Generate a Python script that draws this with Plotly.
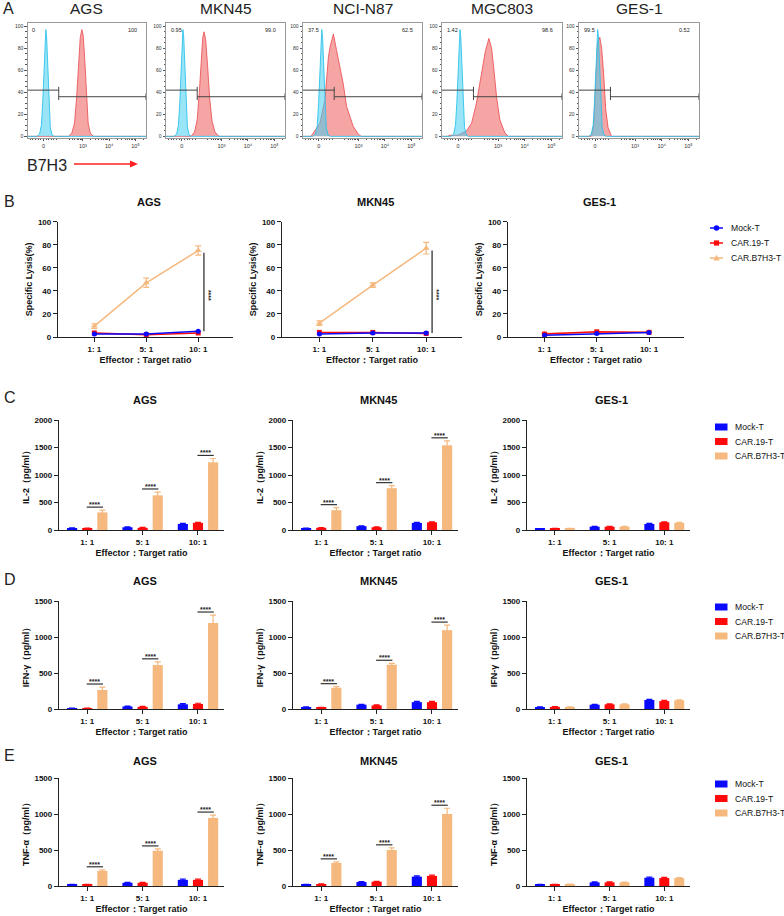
import math
import plotly.graph_objects as go

W, H = 784, 916

# ---------------- data ----------------
flow_samples = ["AGS", "MKN45", "NCI-N87", "MGC803", "GES-1"]
gate_left_pct = ["0", "0.95", "37.5", "1.42", "99.5"]
gate_right_pct = ["100", "99.0", "62.5", "98.6", "0.52"]
# histogram curves, x in display units (0 -> 1.5, 10^3 -> 3, 10^4 -> 4, 10^5 -> 5), y = % of max
ags_ctrl_x = [0.9, 1.25, 1.35, 1.42, 1.47, 1.52, 1.56, 1.59, 1.62, 1.66, 1.71, 1.76, 1.83, 1.92, 5.4]
ags_ctrl_y = [0, 0, 2, 10, 30, 65, 90, 97, 90, 62, 28, 8, 1, 0, 0]
ags_b7_x = [0.9, 2.45, 2.58, 2.68, 2.76, 2.83, 2.90, 2.96, 3.01, 3.07, 3.13, 3.20, 3.28, 3.40, 5.4]
ags_b7_y = [0, 0, 3, 12, 35, 68, 90, 97, 92, 70, 38, 12, 3, 0, 0]
mkn_ctrl_x = [0.9, 1.20, 1.30, 1.37, 1.42, 1.47, 1.51, 1.54, 1.57, 1.61, 1.66, 1.71, 1.78, 1.87, 5.4]
mkn_ctrl_y = [0, 0, 2, 10, 30, 65, 90, 97, 90, 62, 28, 8, 1, 0, 0]
mkn_b7_x = [0.9, 1.85, 1.98, 2.08, 2.16, 2.23, 2.29, 2.34, 2.40, 2.47, 2.55, 2.64, 2.75, 2.90, 5.4]
mkn_b7_y = [0, 0, 4, 15, 40, 72, 90, 95, 88, 65, 35, 14, 4, 0, 0]
nci_ctrl_x = [0.9, 1.27, 1.37, 1.44, 1.49, 1.54, 1.58, 1.61, 1.64, 1.68, 1.73, 1.78, 1.85, 1.94, 5.4]
nci_ctrl_y = [0, 0, 2, 10, 30, 65, 90, 97, 90, 62, 28, 8, 1, 0, 0]
nci_b7_x = [0.9, 1.20, 1.29, 1.54, 1.73, 1.86, 1.92, 2.05, 2.17, 2.30, 2.42, 2.55, 2.68, 2.80, 2.99, 3.10, 5.4]
nci_b7_y = [0, 0, 3, 12, 33, 72, 81, 93, 78, 63, 48, 27, 18, 9, 2, 0, 0]
mgc_ctrl_x = [0.9, 1.235, 1.335, 1.405, 1.455, 1.505, 1.545, 1.575, 1.605, 1.645, 1.695, 1.745, 1.815, 1.905, 5.4]
mgc_ctrl_y = [0, 0, 2, 10, 30, 65, 90, 97, 90, 62, 28, 8, 1, 0, 0]
mgc_b7_x = [0.9, 1.10, 1.19, 1.50, 1.82, 2.01, 2.19, 2.32, 2.45, 2.53, 2.66, 2.76, 2.85, 2.95, 3.07, 3.26, 3.39, 5.4]
mgc_b7_y = [0, 0, 1, 1, 5, 12, 30, 50, 70, 78, 89, 80, 60, 35, 15, 3, 0, 0]
ges_ctrl_x = [0.9, 1.26, 1.36, 1.43, 1.48, 1.53, 1.57, 1.60, 1.63, 1.67, 1.72, 1.77, 1.84, 1.93, 5.4]
ges_ctrl_y = [0, 0, 2, 10, 30, 65, 90, 97, 90, 62, 28, 8, 1, 0, 0]
ges_b7_x = [0.9, 1.36, 1.45, 1.52, 1.60, 1.68, 1.75, 1.83, 1.90, 1.99, 2.12, 5.4]
ges_b7_y = [0, 0, 10, 50, 85, 90, 80, 55, 25, 8, 0, 0]
gate_split = 2.08
gate_left_y = 42
gate_right_y = 36
flow_tickvals = [1.5, 3, 4, 5]
flow_ticktext = ["0", "10³", "10⁴", "10⁵"]

ratios = ["1: 1", "5: 1", "10: 1"]
groups = ["Mock-T", "CAR.19-T", "CAR.B7H3-T"]
targets = ["AGS", "MKN45", "GES-1"]

# B: specific lysis (%)
lysis_ags_mock = [2.5, 2.5, 5.0]
lysis_ags_car19 = [3.5, 2.0, 3.5]
lysis_ags_b7h3 = [9.5, 47.0, 75.0]
lysis_ags_b7h3_err = [2.0, 4.0, 4.0]
lysis_mkn45_mock = [2.5, 3.5, 3.5]
lysis_mkn45_car19 = [4.0, 4.0, 3.0]
lysis_mkn45_b7h3 = [12.0, 45.0, 77.0]
lysis_mkn45_b7h3_err = [2.0, 2.0, 5.0]
lysis_ges1_mock = [1.5, 3.0, 4.0]
lysis_ges1_car19 = [2.5, 4.5, 4.0]
lysis_ges1_b7h3 = [3.0, 3.5, 4.5]
lysis_ges1_b7h3_err = [0.5, 0.5, 0.5]

# C: IL-2 (pg/ml)
il2_ags_mock = [35, 50, 110]
il2_ags_car19 = [30, 40, 130]
il2_ags_b7h3 = [320, 630, 1230]
il2_ags_b7h3_err = [40, 60, 70]
il2_mkn45_mock = [30, 70, 130]
il2_mkn45_car19 = [40, 50, 140]
il2_mkn45_b7h3 = [360, 760, 1540]
il2_mkn45_b7h3_err = [45, 45, 80]
il2_ges1_mock = [20, 60, 110]
il2_ges1_car19 = [25, 60, 140]
il2_ges1_b7h3 = [25, 60, 130]
il2_ges1_b7h3_err = [5, 5, 10]

# D: IFN-gamma (pg/ml)
ifn_ags_mock = [10, 35, 65]
ifn_ags_car19 = [10, 30, 70]
ifn_ags_b7h3 = [265, 610, 1195]
ifn_ags_b7h3_err = [40, 45, 110]
ifn_mkn45_mock = [25, 60, 95]
ifn_mkn45_car19 = [20, 50, 95]
ifn_mkn45_b7h3 = [295, 615, 1095]
ifn_mkn45_b7h3_err = [15, 20, 70]
ifn_ges1_mock = [25, 60, 125]
ifn_ges1_car19 = [30, 65, 110]
ifn_ges1_b7h3 = [25, 65, 120]
ifn_ges1_b7h3_err = [5, 5, 8]

# E: TNF-alpha (pg/ml)
tnf_ags_mock = [20, 45, 85]
tnf_ags_car19 = [20, 45, 85]
tnf_ags_b7h3 = [210, 490, 945]
tnf_ags_b7h3_err = [15, 25, 40]
tnf_mkn45_mock = [20, 55, 130]
tnf_mkn45_car19 = [25, 60, 140]
tnf_mkn45_b7h3 = [320, 500, 1000]
tnf_mkn45_b7h3_err = [15, 30, 80]
tnf_ges1_mock = [20, 50, 115]
tnf_ges1_car19 = [20, 50, 110]
tnf_ges1_b7h3 = [20, 50, 110]
tnf_ges1_b7h3_err = [5, 5, 8]
small_err = [4, 6, 10]

# ---------------- style ----------------
BLUE, RED, ORANGE = "#0a0aff", "#ff0a0a", "#f5b87e"
GROUP_COLORS = [BLUE, RED, ORANGE]
FAM = "Arial, Liberation Sans, sans-serif"
TICKF = dict(family=FAM, size=8, color="#111", weight="bold")
TITLEF = dict(family=FAM, size=9, color="#111", weight="bold")


def dom_x(a, b):
    return [a / W, b / W]


def dom_y(top, bot):
    return [1 - bot / H, 1 - top / H]


def PX(x):
    return x / W


def PY(y):
    return 1 - y / H


fig = go.Figure()
layout = {}
shapes = []
annos = []
counter = [0]


def add_axes(xdom, ydom, xcfg, ycfg):
    counter[0] += 1
    i = counter[0]
    s = "" if i == 1 else str(i)
    layout["xaxis" + s] = dict(domain=xdom, anchor="y" + s, automargin=False, **xcfg)
    layout["yaxis" + s] = dict(domain=ydom, anchor="x" + s, automargin=False, **ycfg)
    return "x" + s, "y" + s


def ptxt(text, xpx, ypx, size, weight="normal", xanchor="center", color="#111"):
    annos.append(dict(text=text, x=PX(xpx), y=PY(ypx), xref="paper", yref="paper",
                      showarrow=False, xanchor=xanchor, yanchor="middle",
                      font=dict(family=FAM, size=size, color=color, weight=weight)))


# ---------------- A: flow histograms ----------------
flow_curves = [
    (ags_ctrl_x, ags_ctrl_y, ags_b7_x, ags_b7_y),
    (mkn_ctrl_x, mkn_ctrl_y, mkn_b7_x, mkn_b7_y),
    (nci_ctrl_x, nci_ctrl_y, nci_b7_x, nci_b7_y),
    (mgc_ctrl_x, mgc_ctrl_y, mgc_b7_x, mgc_b7_y),
    (ges_ctrl_x, ges_ctrl_y, ges_b7_x, ges_b7_y),
]
flow_frames = [(27.7, 146), (166, 285), (303, 422), (442, 562), (579, 699)]
minor_x = [1.0, 1.1, 1.2, 1.3, 1.4, 1.6, 1.7, 1.8, 1.9, 2.0]
for d in (2, 3, 4):
    for k in range(2, 10):
        v = d + math.log10(k)
        if v > 2.4:
            minor_x.append(v)
minor_x.append(5 + math.log10(2))
for n, name in enumerate(flow_samples):
    a, b = flow_frames[n]
    xcfg = dict(range=[0.9, 5.4], tickvals=flow_tickvals, ticktext=flow_ticktext,
                tickfont=dict(family=FAM, size=5.5, color="#333"), ticks="outside", ticklen=2.5,
                tickwidth=0.7, tickcolor="#555", showline=True, mirror=True, linecolor="#999",
                linewidth=0.8, showgrid=False, zeroline=False,
                minor=dict(tickvals=minor_x, ticks="outside", ticklen=1.5, tickwidth=0.5, tickcolor="#555"))
    ycfg = dict(range=[-1.5, 103], tickvals=[0, 20, 40, 60, 80, 100],
                tickfont=dict(family=FAM, size=5, color="#333"), ticks="outside", ticklen=2.5,
                tickwidth=0.7, tickcolor="#555", showline=True, mirror=True, linecolor="#999",
                linewidth=0.8, showgrid=False, zeroline=False,
                minor=dict(dtick=5, ticks="outside", ticklen=1.5, tickwidth=0.5, tickcolor="#555"))
    xa, ya = add_axes(dom_x(a, b), dom_y(23, 138), xcfg, ycfg)
    cx, cy, bx, by = flow_curves[n]
    fig.add_trace(go.Scatter(x=bx, y=by, mode="lines", fill="tozeroy", line=dict(color="#e8474c", width=0.8),
                             fillcolor="rgba(240,105,105,0.6)", xaxis=xa, yaxis=ya, showlegend=False))
    fig.add_trace(go.Scatter(x=cx, y=cy, mode="lines", fill="tozeroy", line=dict(color="#2cc3ea", width=0.9),
                             fillcolor="rgba(70,205,240,0.55)", xaxis=xa, yaxis=ya, showlegend=False))
    # gates
    gl = dict(type="line", xref=xa, yref=ya, line=dict(color="#444", width=1))
    shapes.append(dict(gl, x0=0.9, x1=gate_split, y0=gate_left_y, y1=gate_left_y))
    shapes.append(dict(gl, x0=gate_split, x1=gate_split, y0=gate_left_y - 3, y1=gate_left_y + 3))
    shapes.append(dict(gl, x0=gate_split, x1=5.4, y0=gate_right_y, y1=gate_right_y))
    shapes.append(dict(gl, x0=gate_split, x1=gate_split, y0=gate_right_y - 3, y1=gate_right_y + 3))
    shapes.append(dict(gl, x0=5.4, x1=5.4, y0=gate_right_y - 3, y1=gate_right_y + 3))
    annos.append(dict(text=gate_left_pct[n], x=1.0, y=97, xref=xa, yref=ya, showarrow=False,
                      xanchor="left", font=dict(family=FAM, size=5.5, color="#222")))
    annos.append(dict(text=gate_right_pct[n], x=5.15, y=97, xref=xa, yref=ya, showarrow=False,
                      xanchor="right", font=dict(family=FAM, size=5.5, color="#222")))
    ptxt(name, (a + b) / 2, 9, 15.5, color="#222")

ptxt("A", 1, 9, 16, xanchor="left", color="#222")
ptxt("B7H3", 25, 165, 16, xanchor="left", color="#222")
shapes.append(dict(type="line", xref="paper", yref="paper", x0=PX(74), x1=PX(131), y0=PY(164), y1=PY(164),
                   line=dict(color="#ff2020", width=1.4)))
shapes.append(dict(type="path", xref="paper", yref="paper",
                   path=f"M {PX(138)} {PY(164)} L {PX(130)} {PY(160.5)} L {PX(130)} {PY(167.5)} Z",
                   fillcolor="#ff2020", line=dict(width=0)))

# ---------------- B: specific lysis ----------------
lysis = [
    (lysis_ags_mock, lysis_ags_car19, lysis_ags_b7h3, lysis_ags_b7h3_err),
    (lysis_mkn45_mock, lysis_mkn45_car19, lysis_mkn45_b7h3, lysis_mkn45_b7h3_err),
    (lysis_ges1_mock, lysis_ges1_car19, lysis_ges1_b7h3, lysis_ges1_b7h3_err),
]
b_frames = [(58, 233), (282, 462), (508, 684)]
xs = list(range(len(ratios)))


def std_x(rng):
    return dict(range=rng, tickvals=xs, ticktext=ratios, tickfont=TICKF, ticks="outside", ticklen=4,
                tickwidth=1.3, tickcolor="#222", showline=True, linecolor="#222", linewidth=1.3,
                showgrid=False, zeroline=False,
                title=dict(text="Effector：Target ratio", font=TITLEF, standoff=3))


def std_y(rng, dtick, title):
    return dict(range=rng, dtick=dtick, tickfont=TICKF, ticks="outside", ticklen=4, tickwidth=1.3,
                tickcolor="#222", showline=True, linecolor="#222", linewidth=1.3, showgrid=False,
                zeroline=False, title=dict(text=title, font=TITLEF, standoff=3))


for n, tname in enumerate(targets):
    a, b = b_frames[n]
    xa, ya = add_axes(dom_x(a, b), dom_y(221.7, 337), std_x([-0.7, 2.67]),
                      std_y([0, 100], 20, "Specific Lysis(%)"))
    mock, car19, b7, b7e = lysis[n]
    fig.add_trace(go.Scatter(x=xs, y=b7, name=groups[2], mode="lines+markers", xaxis=xa, yaxis=ya,
                             line=dict(color=ORANGE, width=1.5), marker=dict(symbol="triangle-up", size=6, color=ORANGE),
                             error_y=dict(type="data", array=b7e, color=ORANGE, thickness=1.2, width=3),
                             cliponaxis=False, showlegend=False))
    fig.add_trace(go.Scatter(x=xs, y=car19, name=groups[1], mode="lines+markers", xaxis=xa, yaxis=ya,
                             line=dict(color=RED, width=1.5), marker=dict(symbol="square", size=5, color=RED),
                             cliponaxis=False, showlegend=False))
    fig.add_trace(go.Scatter(x=xs, y=mock, name=groups[0], mode="lines+markers", xaxis=xa, yaxis=ya,
                             line=dict(color=BLUE, width=1.5), marker=dict(symbol="circle", size=5, color=BLUE),
                             cliponaxis=False, showlegend=False))
    ptxt(tname, (a + b) / 2 + 3, 202, 11, weight="bold")
    if n < 2:
        top = b7[2] - 2
        bot = mock[2]
        shapes.append(dict(type="line", xref=xa, yref=ya, x0=2.11, x1=2.11, y0=bot, y1=top,
                           line=dict(color="#333", width=1.3)))
        annos.append(dict(text="****", x=2.2, y=(top + bot) / 2 - 3, xref=xa, yref=ya, showarrow=False,
                          textangle=90, font=dict(family=FAM, size=7, color="#222", weight="bold")))
ptxt("B", 2, 201, 16, xanchor="left", color="#222")

# legend for B (line + marker keys)
LEGF = 8.6
b_rows = [228, 243, 258]
for g, col, yk, sym in zip(groups, GROUP_COLORS, b_rows, ["circle", "square", "triangle"]):
    shapes.append(dict(type="line", xref="paper", yref="paper", x0=PX(710), x1=PX(723), y0=PY(yk), y1=PY(yk),
                       line=dict(color=col, width=1.5)))
    cxk = 716.5
    if sym == "circle":
        shapes.append(dict(type="circle", xref="paper", yref="paper", x0=PX(cxk - 2.8), x1=PX(cxk + 2.8),
                           y0=PY(yk + 2.8), y1=PY(yk - 2.8), fillcolor=col, line=dict(width=0)))
    elif sym == "square":
        shapes.append(dict(type="rect", xref="paper", yref="paper", x0=PX(cxk - 2.6), x1=PX(cxk + 2.6),
                           y0=PY(yk + 2.6), y1=PY(yk - 2.6), fillcolor=col, line=dict(width=0)))
    else:
        shapes.append(dict(type="path", xref="paper", yref="paper",
                           path=f"M {PX(cxk)} {PY(yk - 3.2)} L {PX(cxk - 3.2)} {PY(yk + 2.6)} L {PX(cxk + 3.2)} {PY(yk + 2.6)} Z",
                           fillcolor=col, line=dict(width=0)))
    ptxt(g, 729, yk, LEGF, xanchor="left")

# ---------------- C, D, E: cytokine bars ----------------
bar_rows = [
    ("C", "IL-2（pg/ml）", [0, 2000], 500, (420, 530), 400, 398,
     [(il2_ags_mock, il2_ags_car19, il2_ags_b7h3, il2_ags_b7h3_err),
      (il2_mkn45_mock, il2_mkn45_car19, il2_mkn45_b7h3, il2_mkn45_b7h3_err),
      (il2_ges1_mock, il2_ges1_car19, il2_ges1_b7h3, il2_ges1_b7h3_err)], [427, 441.5, 456]),
    ("D", "IFN-γ（pg/ml）", [0, 1500], 500, (601, 709), 581, 579,
     [(ifn_ags_mock, ifn_ags_car19, ifn_ags_b7h3, ifn_ags_b7h3_err),
      (ifn_mkn45_mock, ifn_mkn45_car19, ifn_mkn45_b7h3, ifn_mkn45_b7h3_err),
      (ifn_ges1_mock, ifn_ges1_car19, ifn_ges1_b7h3, ifn_ges1_b7h3_err)], [607, 621.5, 636]),
    ("E", "TNF-α（pg/ml）", [0, 1500], 500, (778, 886), 761, 755,
     [(tnf_ags_mock, tnf_ags_car19, tnf_ags_b7h3, tnf_ags_b7h3_err),
      (tnf_mkn45_mock, tnf_mkn45_car19, tnf_mkn45_b7h3, tnf_mkn45_b7h3_err),
      (tnf_ges1_mock, tnf_ges1_car19, tnf_ges1_b7h3, tnf_ges1_b7h3_err)], [784, 798.5, 813]),
]
bar_frames = [(59, 224), (293, 458), (527, 690)]
for letter, ytitle, yr, dt, (ytop, ybot), title_y, letter_y, datasets, leg_rows in bar_rows:
    for n, tname in enumerate(targets):
        a, b = bar_frames[n]
        xa, ya = add_axes(dom_x(a, b), dom_y(ytop, ybot), std_x([-0.51, 2.47]), std_y(yr, dt, ytitle))
        mock, car19, b7, b7e = datasets[n]
        for g, vals, err, col in zip(groups, [mock, car19, b7], [small_err, small_err, b7e], GROUP_COLORS):
            fig.add_trace(go.Bar(x=xs, y=vals, name=g, marker=dict(color=col, line=dict(width=0)),
                                 error_y=dict(type="data", array=err, color=col, thickness=1.2, width=3),
                                 xaxis=xa, yaxis=ya, showlegend=False))
        ptxt(tname, (a + b) / 2 + 3, title_y, 11, weight="bold")
        if n < 2:
            pad = 0.028 * yr[1]
            for k in range(len(xs)):
                yl = b7[k] + b7e[k] + pad
                shapes.append(dict(type="line", xref=xa, yref=ya, x0=k - 0.01, x1=k + 0.285, y0=yl, y1=yl,
                                   line=dict(color="#333", width=1.2)))
                annos.append(dict(text="****", x=k + 0.137, y=yl, xref=xa, yref=ya, showarrow=False,
                                  yanchor="bottom", yshift=-3,
                                  font=dict(family=FAM, size=7, color="#222", weight="bold")))
    ptxt(letter, 2, letter_y, 16, xanchor="left", color="#222")
    # legend (square keys)
    for g, col, yk in zip(groups, GROUP_COLORS, leg_rows):
        shapes.append(dict(type="rect", xref="paper", yref="paper", x0=PX(715), x1=PX(727.5),
                           y0=PY(yk + 3.5), y1=PY(yk - 3.5), fillcolor=col, line=dict(width=0)))
        ptxt(g, 733, yk, LEGF, xanchor="left")

layout.update(dict(width=W, height=H, margin=dict(l=0, r=0, t=0, b=0), plot_bgcolor="white",
                   paper_bgcolor="white", barmode="group", bargap=0.18, bargroupgap=0.33,
                   shapes=shapes, annotations=annos, font=dict(family=FAM), showlegend=False))
fig.update_layout(**layout)
fig.write_html("out.html", config={"displayModeBar": False},
               post_script="document.body.style.margin='0';document.body.style.padding='0';"
                           "document.documentElement.style.overflow='hidden';")
